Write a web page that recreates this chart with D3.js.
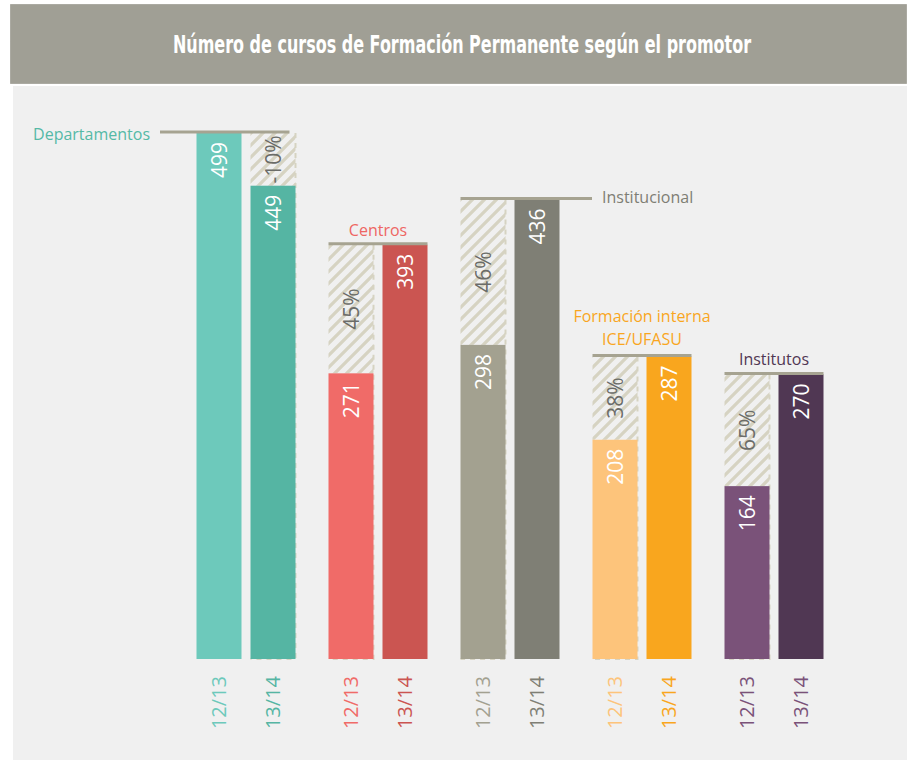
<!DOCTYPE html>
<html>
<head>
<meta charset="utf-8">
<script src="https://cdn.jsdelivr.net/npm/d3@7"></script>
<style>
  body { margin: 0; background: #fff; }
  text { font-family: "Open Sans", "Noto Sans", sans-serif; }
</style>
</head>
<body>
<div id="container"></div>
<script>
let w = 915;
let h = 764;

// data
let promotores = ['Departamentos', 'Centros', 'Institucional', 'Formación interna', 'Institutos'];
let cursos = ['12/13', '13/14'];
let valores1213 = [499, 271, 298, 208, 164];
let valores1314 = [449, 393, 436, 287, 270];
let variacion = ['-10%', '45%', '46%', '38%', '65%'];

let colores1213 = ['#6dc9bb', '#f06b68', '#a3a190', '#fdc47b', '#7a5279'];
let colores1314 = ['#55b5a3', '#cb5551', '#7f7f75', '#f9a61e', '#503753'];
let coloresTick1314 = ['#55b5a3', '#cb5551', '#7f7f75', '#f9a61e', '#7a5279'];
let coloresTexto = ['#55b9a6', '#ee6663', '#7e7e74', '#f9a61e', '#503753'];

let hatchColor = '#d6d3c2';
let lineColor = '#a6a391';
let panelColor = '#f0f0f0';

let viz = d3.select('#container')
  .append('svg')
    .attr('width', w)
    .attr('height', h);

// hatch pattern
let defs = viz.append('defs');
defs.append('pattern')
    .attr('id', 'hatch')
    .attr('patternUnits', 'userSpaceOnUse')
    .attr('width', 12)
    .attr('height', 12)
  .append('path')
    .attr('d', 'M-3,3 l6,-6 M0,12 l12,-12 M9,15 l6,-6')
    .attr('stroke', hatchColor)
    .attr('stroke-width', 3.2);

// title bar
viz.append('rect')
    .attr('x', 10.5).attr('y', 4.5)
    .attr('width', 896).attr('height', 79)
    .attr('fill', '#a09f95')
    .attr('stroke', '#86857b')
    .attr('stroke-dasharray', '1,1');

// condensed look: squeeze the bold title horizontally
viz.append('text')
    .attr('transform', 'translate(462,53) scale(0.64,1)')
    .attr('text-anchor', 'middle')
    .attr('fill', '#fff')
    .style('font-family', '"DejaVu Sans", sans-serif')
    .style('font-weight', 'bold')
    .style('font-size', '25px')
    .text('Número de cursos de Formación Permanente según el promotor');

// panel
viz.append('rect')
    .attr('x', 13).attr('y', 86)
    .attr('width', 894).attr('height', 674)
    .attr('fill', panelColor);

// scales
let x0 = d3.scaleBand()
    .domain(promotores)
    .range([180, 840]);

let x1 = d3.scaleBand()
    .domain(cursos)
    .range([16.5, 115.5])
    .paddingInner(9 / 54);

let y = d3.scaleLinear()
    .domain([0, 499])
    .range([659, 133]);

let datos = promotores.map((p, i) => ({
  promotor: p,
  i: i,
  v: [valores1213[i], valores1314[i]],
  pct: variacion[i]
}));

let groups = viz.selectAll('.datagroup').data(datos)
  .enter()
    .append('g')
    .attr('class', 'datagroup')
    .attr('transform', d => 'translate(' + x0(d.promotor) + ',0)');

// column that shows the difference between both years
function diffX(d) {
  return d.v[1] >= d.v[0] ? x1('12/13') : x1('13/14');
}

// hatched area
groups.append('rect')
    .attr('x', diffX)
    .attr('y', d => y(d3.max(d.v)))
    .attr('width', x1.bandwidth())
    .attr('height', d => y(d3.min(d.v)) - y(d3.max(d.v)))
    .attr('fill', 'url(#hatch)');

// dashed outline of the missing column
groups.append('path')
    .attr('d', d => {
      let bx = diffX(d);
      let x2 = bx + x1.bandwidth();
      return 'M' + x2 + ',' + y(d3.max(d.v)) + 'V' + y(0) + 'H' + bx;
    })
    .attr('fill', 'none')
    .attr('stroke', hatchColor)
    .attr('stroke-width', 2)
    .attr('stroke-dasharray', '5,5');

// bars
groups.selectAll('.bar')
  .data(d => cursos.map((c, j) => ({ curso: c, valor: d.v[j], i: d.i })))
  .enter()
    .append('rect')
    .attr('class', 'bar')
    .attr('x', d => x1(d.curso))
    .attr('y', d => y(d.valor))
    .attr('width', x1.bandwidth())
    .attr('height', d => y(0) - y(d.valor))
    .attr('fill', d => d.curso == '12/13' ? colores1213[d.i] : colores1314[d.i]);

// value labels inside bars
groups.selectAll('.val')
  .data(d => cursos.map((c, j) => ({ curso: c, valor: d.v[j], i: d.i })))
  .enter()
    .append('text')
    .attr('class', 'val')
    .attr('transform', d => 'translate(' + (x1(d.curso) + x1.bandwidth() / 2) + ',' + (y(d.valor) + 9) + ') rotate(-90)')
    .attr('text-anchor', 'end')
    .attr('dy', '0.36em')
    .attr('fill', '#fff')
    .style('font-size', '21px')
    .text(d => d.valor);

// percent labels in hatched area
groups.append('text')
    .attr('transform', d => {
      let cy = (y(d.v[0]) + y(d.v[1])) / 2;
      return 'translate(' + (diffX(d) + x1.bandwidth() / 2) + ',' + cy + ') rotate(-90)';
    })
    .attr('text-anchor', 'middle')
    .attr('dy', '0.36em')
    .attr('fill', '#6b6c68')
    .style('font-size', '21px')
    .text(d => d.pct);

// top reference line
let lineExtra = [[-36.5, -6], [0, 0], [0, 32.5], [0, 0], [0, 0]];
groups.append('line')
    .attr('x1', d => x1('12/13') + lineExtra[d.i][0])
    .attr('x2', d => x1('13/14') + x1.bandwidth() + lineExtra[d.i][1])
    .attr('y1', d => y(d3.max(d.v)) - 1)
    .attr('y2', d => y(d3.max(d.v)) - 1)
    .attr('stroke', lineColor)
    .attr('stroke-width', 3);

// category labels (below bars)
groups.selectAll('.tick')
  .data(d => cursos.map(c => ({ curso: c, i: d.i })))
  .enter()
    .append('text')
    .attr('class', 'tick')
    .attr('transform', d => 'translate(' + (x1(d.curso) + x1.bandwidth() / 2) + ',676) rotate(-90)')
    .attr('text-anchor', 'end')
    .attr('dy', '0.36em')
    .attr('fill', d => d.curso == '12/13' ? colores1213[d.i] : coloresTick1314[d.i])
    .style('font-size', '20px')
    .text(d => d.curso);

// promoter labels
let labelPos = [
  { dx: -30, dy: 7, anchor: 'end', lines: ['Departamentos'] },
  { dx: 66, dy: -9, anchor: 'middle', lines: ['Centros'] },
  { dx: 158, dy: 4, anchor: 'start', lines: ['Institucional'] },
  { dx: 66, dy: -34, anchor: 'middle', lines: ['Formación interna', 'ICE/UFASU'] },
  { dx: 66, dy: -9, anchor: 'middle', lines: ['Institutos'] }
];

groups.append('text')
    .attr('x', d => labelPos[d.i].dx)
    .attr('y', d => y(d3.max(d.v)) + labelPos[d.i].dy)
    .attr('text-anchor', d => labelPos[d.i].anchor)
    .attr('fill', d => coloresTexto[d.i])
    .style('font-size', '16px')
    .selectAll('tspan')
    .data(d => labelPos[d.i].lines.map((l, k) => ({ l: l, k: k, x: labelPos[d.i].dx })))
    .enter()
      .append('tspan')
      .attr('x', t => t.x)
      .attr('dy', t => t.k == 0 ? 0 : 23)
      .text(t => t.l);
</script>
</body>
</html>
